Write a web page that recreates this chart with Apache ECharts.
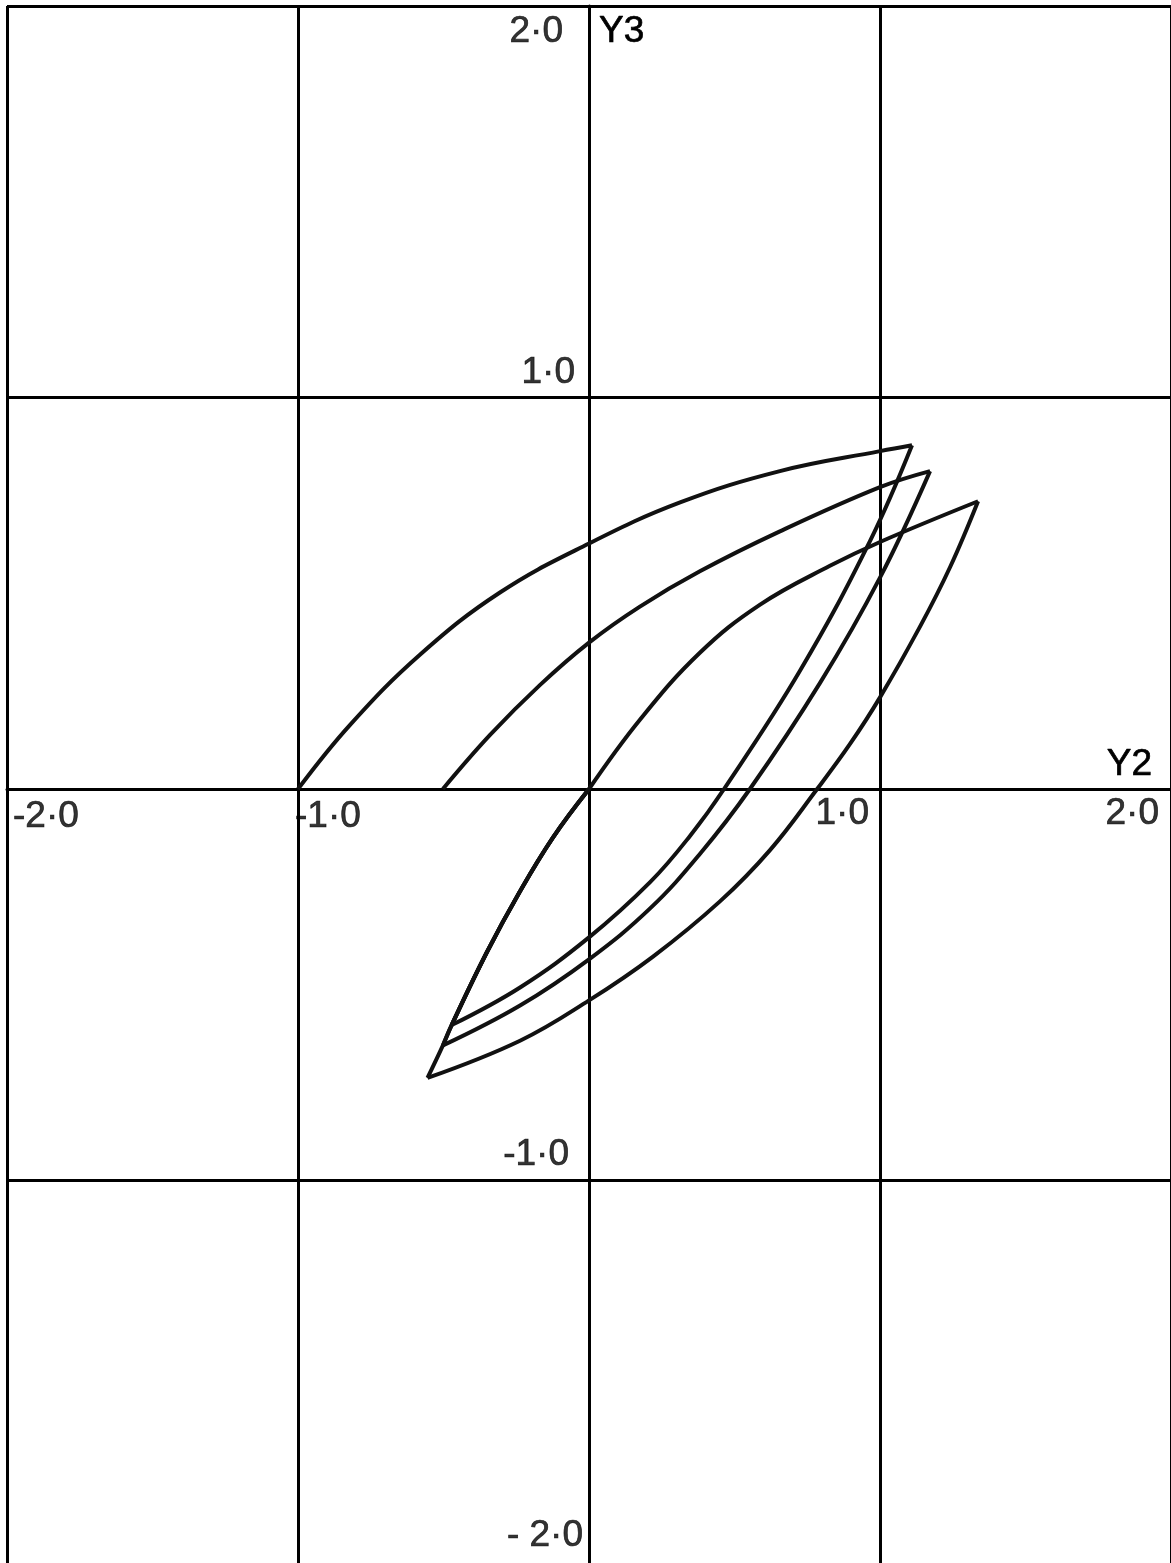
<!DOCTYPE html>
<html>
<head>
<meta charset="utf-8">
<script src="https://cdn.jsdelivr.net/npm/echarts@6/dist/echarts.min.js"></script>
<style>
  html, body { margin: 0; padding: 0; background: #fff; }
  #chart { width: 1171px; height: 1563px; }
</style>
</head>
<body>
<div id="chart"></div>
<script>
// Phase-plane plot: Y3 against Y2 for three starting values of Y2

const xTickValues = [-2, -1, 1, 2];
const xTickLabels = ['-2·0', '-1·0', '1·0', '2·0'];
const yTickValues = [2, 1, -1, -2];
const yTickLabels = ['2·0', '1·0', '-1·0', '- 2·0'];

// trajectory started at Y2 = -1.0
const rise1 = [[-1.0, 0], [-0.821, 0.164], [-0.581, 0.343], [-0.306, 0.502], [0, 0.627],
  [0.313, 0.732], [0.656, 0.812], [1.0, 0.863], [1.11, 0.878]];
const fall1 = [[1.11, 0.878], [0.966, 0.634], [0.725, 0.302], [0.464, 0], [0.347, -0.12],
  [0.21, -0.238], [0, -0.379], [-0.237, -0.507], [-0.472, -0.603]];
const return1 = [[-0.472, -0.603], [-0.351, -0.417], [-0.237, -0.261], [-0.124, -0.124], [0, 0]];

// trajectory started at Y2 = -0.5
const rise2 = [[-0.502, 0], [-0.34, 0.138], [-0.168, 0.266], [0, 0.374], [0.175, 0.466],
  [0.381, 0.556], [0.656, 0.658], [1.0, 0.771], [1.172, 0.812]];
const fall2 = [[1.172, 0.812], [1.0, 0.54], [0.794, 0.271], [0.553, 0], [0.381, -0.166],
  [0.21, -0.305], [0, -0.435], [-0.237, -0.553], [-0.502, -0.655]];
const return2 = [[-0.502, -0.655], [-0.472, -0.603], [-0.351, -0.417], [-0.237, -0.261], [-0.124, -0.124], [0, 0]];

// trajectory started at the origin
const rise3 = [[0, 0], [0.175, 0.177], [0.381, 0.348], [0.588, 0.471], [0.828, 0.57],
  [1.0, 0.631], [1.337, 0.735]];
const fall3 = [[1.337, 0.735], [1.241, 0.567], [1.137, 0.414], [1.0, 0.234], [0.897, 0.115],
  [0.784, 0], [0.622, -0.156], [0.45, -0.287], [0.22, -0.428], [0, -0.54], [-0.237, -0.643],
  [-0.555, -0.738]];
const return3 = [[-0.555, -0.738], [-0.502, -0.655], [-0.472, -0.603], [-0.351, -0.417],
  [-0.237, -0.261], [-0.124, -0.124], [0, 0]];

const FONT = '"Liberation Sans", Arial, sans-serif';
const INK = '#000';
const gridLine = { color: INK, width: 3 };
const textStyle = {
  fontFamily: FONT, fontSize: 37, color: INK,
  textBorderColor: INK, textBorderWidth: 0.7
};

// placement of the tick labels around their grid lines
const xLabelLayout = [
  { align: 'left', offset: [6, 28] },
  { align: 'left', offset: [-3, 28] },
  { align: 'right', offset: [-11, 25] },
  { align: 'right', offset: [-12, 25] }
];
const yLabelLayout = [
  { align: 'right', offset: [-26, 26] },
  { align: 'right', offset: [-14, -25] },
  { align: 'right', offset: [-20, -26] },
  { align: 'right', offset: [-6, -36] }
];

function curve(data) {
  return {
    type: 'line', data: data, symbol: 'none', showSymbol: false, smooth: 0.4,
    silent: true, clip: false, z: 3,
    lineStyle: { color: '#111', width: 4 }
  };
}

function tickLabels(points, texts, layout) {
  return {
    type: 'scatter', silent: true, clip: false, z: 5,
    symbolSize: 1, itemStyle: { color: 'transparent' },
    label: Object.assign({ show: true, position: 'inside', verticalAlign: 'middle' }, textStyle),
    data: points.map(function (p, i) {
      return {
        value: p,
        label: { formatter: texts[i], align: layout[i].align, offset: layout[i].offset }
      };
    })
  };
}

const chart = echarts.init(document.getElementById('chart'), null, { renderer: 'canvas' });

chart.setOption({
  backgroundColor: '#fff',
  animation: false,
  grid: { left: 7, top: 6, width: 1164, height: 1566, containLabel: false, outerBoundsMode: 'none' },
  xAxis: {
    type: 'value', min: -2, max: 2, interval: 1,
    axisLine: { show: true, onZero: true, lineStyle: gridLine },
    axisTick: { show: false },
    axisLabel: { show: false },
    splitLine: { show: true, lineStyle: gridLine },
    name: 'Y2', nameLocation: 'end', nameGap: -19,
    nameTextStyle: Object.assign({ align: 'right', verticalAlign: 'bottom', padding: [0, 0, 6, 0] }, textStyle)
  },
  yAxis: {
    type: 'value', min: -2, max: 2, interval: 1,
    axisLine: { show: true, onZero: true, lineStyle: gridLine },
    axisTick: { show: false },
    axisLabel: { show: false },
    splitLine: { show: true, lineStyle: gridLine },
    name: 'Y3', nameLocation: 'end', nameGap: -26,
    nameTextStyle: Object.assign({ align: 'left', verticalAlign: 'middle', padding: [0, 0, 0, 10] }, textStyle)
  },
  series: [
    curve(rise1), curve(fall1), curve(return1),
    curve(rise2), curve(fall2), curve(return2),
    curve(rise3), curve(fall3), curve(return3),
    tickLabels(xTickValues.map(function (v) { return [v, 0]; }), xTickLabels, xLabelLayout),
    tickLabels(yTickValues.map(function (v) { return [0, v]; }), yTickLabels, yLabelLayout)
  ]
});
</script>
</body>
</html>
